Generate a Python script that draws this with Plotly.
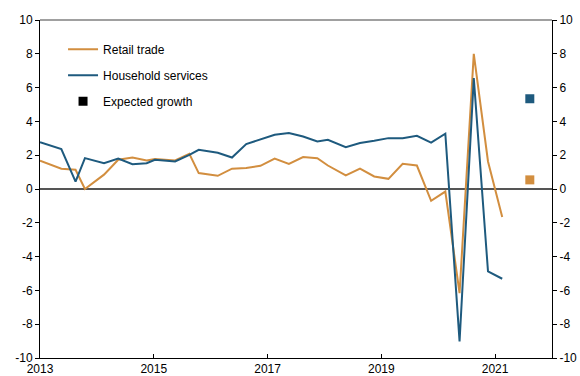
import plotly.graph_objects as go

# Decimal-year positions of the observations
dates = [2013.0, 2013.375, 2013.625, 2013.79, 2014.125, 2014.375, 2014.625, 2014.875,
         2015.02, 2015.375, 2015.625, 2015.79, 2016.125, 2016.375, 2016.625, 2016.875,
         2017.125, 2017.375, 2017.625, 2017.875, 2018.06, 2018.375, 2018.625, 2018.875,
         2019.125, 2019.375, 2019.625, 2019.875, 2020.125, 2020.375, 2020.625, 2020.875,
         2021.125]

retail_trade = [1.67, 1.2, 1.14, 0.0, 0.85, 1.73, 1.86, 1.69,
                1.77, 1.69, 2.08, 0.94, 0.78, 1.2, 1.24, 1.37,
                1.8, 1.49, 1.89, 1.82, 1.39, 0.8, 1.21, 0.74,
                0.6, 1.49, 1.39, -0.7, -0.15, -6.16, 8.0, 1.63,
                -1.66]

household_services = [2.77, 2.36, 0.44, 1.83, 1.53, 1.80, 1.47, 1.53,
                      1.73, 1.63, 2.02, 2.32, 2.14, 1.86, 2.66, 2.95,
                      3.21, 3.31, 3.11, 2.81, 2.91, 2.48, 2.72, 2.85,
                      3.01, 3.01, 3.15, 2.75, 3.27, -9.02, 6.56, -4.88,
                      -5.31]

expected_date = [2021.61]
expected_retail = [0.54]
expected_household = [5.34]

y_ticks = [-10, -8, -6, -4, -2, 0, 2, 4, 6, 8, 10]
y_tick_labels = ["-10", "-8", "-6", "-4", "-2", "0", "2", "4", "6", "8", "10"]
x_ticks = [2013, 2015, 2017, 2019, 2021]
x_tick_labels = ["2013", "2015", "2017", "2019", "2021"]

ORANGE = "#D28E3F"
BLUE = "#1E5A7E"
FONT = "Arial, Liberation Sans, sans-serif"

fig = go.Figure()
fig.add_trace(go.Scatter(x=dates, y=retail_trade, mode="lines", name="Retail trade",
                         line=dict(color=ORANGE, width=2), legendgroup="a"))
fig.add_trace(go.Scatter(x=dates, y=household_services, mode="lines", name="Household services",
                         line=dict(color=BLUE, width=2), legendgroup="b"))
fig.add_trace(go.Scatter(x=[None], y=[None], mode="markers", name="Expected growth",
                         marker=dict(symbol="square", color="black", size=9), legendgroup="c"))
fig.add_trace(go.Scatter(x=expected_date, y=expected_household, mode="markers", showlegend=False,
                         marker=dict(symbol="square", color=BLUE, size=9)))
fig.add_trace(go.Scatter(x=expected_date, y=expected_retail, mode="markers", showlegend=False,
                         marker=dict(symbol="square", color=ORANGE, size=9)))
# invisible trace to carry the right-hand axis
fig.add_trace(go.Scatter(x=[None], y=[None], yaxis="y2", showlegend=False, hoverinfo="skip"))

fig.update_layout(
    width=580, height=376,
    margin=dict(l=40, r=28, t=20, b=18, autoexpand=False),
    paper_bgcolor="white", plot_bgcolor="white",
    font=dict(family=FONT, size=12, color="black"),
    showlegend=True,
    legend=dict(x=0.045, y=0.956, xanchor="left", yanchor="top", bgcolor="rgba(0,0,0,0)",
                font=dict(size=12), tracegroupgap=7, itemwidth=30),
    xaxis=dict(range=[2013, 2022], tickvals=x_ticks, ticktext=x_tick_labels, automargin=False,
               showgrid=False, zeroline=False, showline=True, linecolor="black", linewidth=1,
               ticks="inside", ticklen=4, tickcolor="black", fixedrange=True),
    yaxis=dict(range=[-10, 10], tickvals=y_ticks, ticktext=y_tick_labels, automargin=False,
               showgrid=False, zeroline=True, zerolinecolor="#555555", zerolinewidth=1.5,
               showline=True, linecolor="black", linewidth=1,
               ticks="outside", ticklen=4, tickcolor="black"),
    yaxis2=dict(range=[-10, 10], tickvals=y_ticks, ticktext=y_tick_labels, overlaying="y",
                automargin=False,
                side="right", showgrid=False, zeroline=False, showline=True, linecolor="black",
                linewidth=1, ticks="outside", ticklen=4, tickcolor="black"),
    shapes=[dict(type="line", xref="paper", yref="paper", x0=0, x1=1, y0=1, y1=1,
                 line=dict(color="#808080", width=1.5))],
)

fig.write_html("out.html", config={"displayModeBar": False},
               post_script="document.body.style.margin='0';document.body.style.overflow='hidden';")
